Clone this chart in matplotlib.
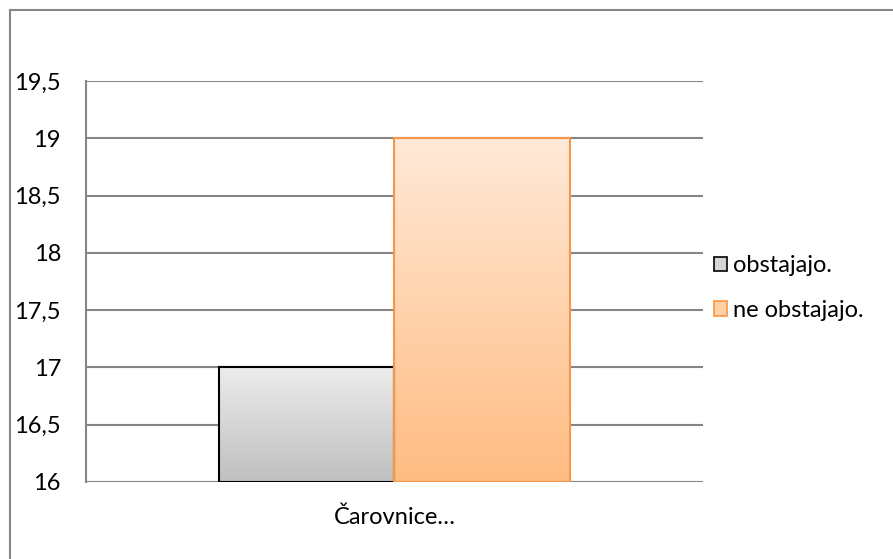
import numpy as np
import matplotlib
matplotlib.use('Agg')
import matplotlib.pyplot as plt
from matplotlib.patches import Patch
from matplotlib.lines import Line2D

# data
category = ["Čarovnice…"]
series_names = ["obstajajo.", "ne obstajajo."]
series_values = [17, 19]
y_ticks = [16, 16.5, 17, 17.5, 18, 18.5, 19, 19.5]
y_tick_labels = ["16", "16,5", "17", "17,5", "18", "18,5", "19", "19,5"]

# gradient colours (top, bottom) and edges per series
grad_colors = [("#ececec", "#bfbfbf"), ("#ffe9d8", "#ffbc82")]
edge_colors = ["#000000", "#f79646"]
legend_face = ["#d6d6d6", "#ffcfa6"]

plt.rcParams['font.family'] = ['Lato', 'DejaVu Sans']

W, H = 893, 559
fig = plt.figure(figsize=(W / 100, H / 100), dpi=100)
ax = fig.add_axes([86 / W, 1 - 482 / H, (703 - 86) / W, (482 - 81) / H])

bar_w = 0.285
offsets = [-bar_w / 2, bar_w / 2]
bottom = y_ticks[0]

for i, (name, val) in enumerate(zip(series_names, series_values)):
    bars = ax.bar(0 + offsets[i], val - bottom, width=bar_w, bottom=bottom,
                  facecolor='none', edgecolor=edge_colors[i], linewidth=1.5,
                  zorder=4)
    for b in bars:
        x0, y0 = b.get_x(), b.get_y()
        x1, y1 = x0 + b.get_width(), y0 + b.get_height()
        top = np.array(matplotlib.colors.to_rgb(grad_colors[i][0]))
        bot = np.array(matplotlib.colors.to_rgb(grad_colors[i][1]))
        t = np.linspace(0, 1, 256)[:, None]
        grad = (top * (1 - t) + bot * t)[:, None, :]
        im = ax.imshow(grad, extent=[x0, x1, y0, y1], origin='upper',
                       aspect='auto', zorder=3)
        im.set_clip_path(b)

ax.set_xlim(-0.5, 0.5)
ax.set_ylim(y_ticks[0], y_ticks[-1])
ax.set_yticks(y_ticks)
ax.set_yticklabels(y_tick_labels)
ax.set_xticks([0])
ax.set_xticklabels(category)
ax.tick_params(axis='y', length=0, pad=18, labelsize=17)
ax.tick_params(axis='x', length=0, pad=18, labelsize=17)

ax.grid(axis='y', color='#868686', linewidth=1.5, zorder=1)
ax.set_axisbelow(True)
for s in ['top', 'right', 'bottom']:
    ax.spines[s].set_visible(False)
ax.spines['left'].set_color('#868686')
ax.spines['left'].set_linewidth(1.5)

handles = [Patch(facecolor=legend_face[i], edgecolor=edge_colors[i], linewidth=1.2)
           for i in range(len(series_names))]
fig.legend(handles, series_names, loc='center left',
           bbox_to_anchor=(714 / W, 1 - 288 / H), frameon=False,
           fontsize=17, handlelength=0.55, handleheight=0.55,
           handletextpad=0.25, labelspacing=1.0, borderaxespad=0,
           borderpad=0)

# outer chart border (visible on top and left only)
fig.add_artist(Line2D([10 / W, 10 / W], [0, 1 - 10 / H], color='#868686',
                      linewidth=1.5, transform=fig.transFigure))
fig.add_artist(Line2D([10 / W, 1], [1 - 10 / H, 1 - 10 / H], color='#868686',
                      linewidth=1.5, transform=fig.transFigure))

fig.savefig('out.png', dpi=100)
